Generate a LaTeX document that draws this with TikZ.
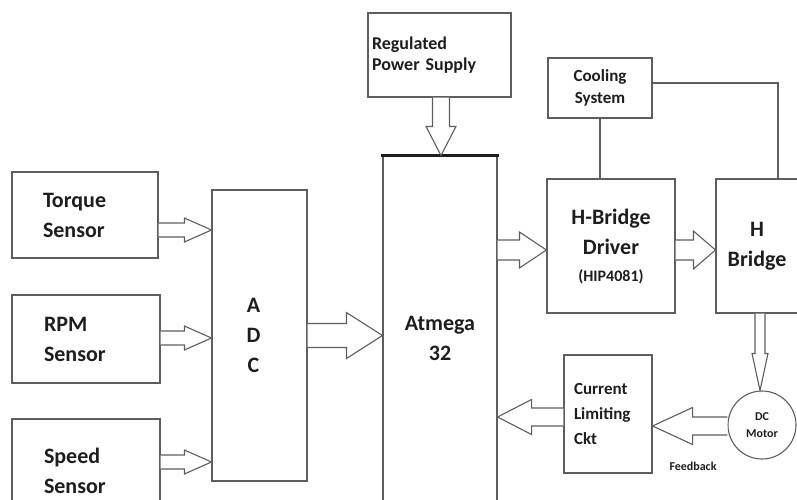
\documentclass[tikz,border=0pt]{standalone}
\usepackage{fontspec}
\setmainfont{Carlito}
\usepackage{tikz}
\usetikzlibrary{calc}
\definecolor{linegray}{HTML}{5E5E5E}
\definecolor{textdark}{HTML}{1E1E1E}
%% outlined block arrow: start, target anchor, |- or -|, shaft half, head half, head length
\newcommand{\blockarrow}[6]{%
  \coordinate (ba-s) at (#1);
  \coordinate (ba-t) at (#2 #3 ba-s);
  \coordinate (ba-h) at ($(ba-t)!#6pt!(ba-s)$);
  \draw[blockarr] ($(ba-s)!#4pt!90:(ba-t)$) -- ($(ba-h)!#4pt!90:(ba-t)$)
    -- ($(ba-h)!#5pt!90:(ba-t)$) -- (ba-t) -- ($(ba-h)!#5pt!-90:(ba-t)$)
    -- ($(ba-h)!#4pt!-90:(ba-t)$) -- ($(ba-s)!#4pt!-90:(ba-t)$);
}

\begin{document}
\begin{tikzpicture}[x=1pt, y=-1pt,
          blk/.style={rectangle, draw=linegray, line width=1.1pt,
                      text=textdark, font=\fontsize{22}{30}\selectfont\bfseries,
                      align=center, inner sep=0pt},
          sensor/.style={blk, minimum width=146pt, minimum height=86pt,
                         text width=84pt, inner xsep=31pt, align=left},
          blockarr/.style={draw=linegray, fill=white, line width=1.1pt,
                           line join=miter},
          conn/.style={draw=linegray, line width=1.1pt}
        ]
        \useasboundingbox (0,0) rectangle (797,499);
        \clip (0,0) rectangle (797,499);
        %% Sensors
        \node[sensor] (torque) at (85,215) {Torque\\Sensor};
        \node[sensor, minimum width=148pt, minimum height=88pt] (rpm) at (86,339) {RPM\\Sensor};
        \node[sensor, minimum width=148pt, minimum height=104pt] (speed) at (86,471) {Speed\\Sensor};
        %% ADC and controller
        \node[blk, minimum width=95pt, minimum height=291pt] (adc) at (259.5,335.5)
              {\hspace*{-12pt}A\\\hspace*{-12pt}D\\\hspace*{-12pt}C};
        \node[blk, minimum width=114pt, minimum height=364pt] (mcu) at (440,338) {Atmega\\32};
        \draw[line width=2.2pt, textdark] ($(mcu.north west)+(-1,0)$) -- ($(mcu.north east)+(1,0)$);
        %% Supply
        \node[blk, minimum width=143pt, minimum height=84pt, text width=135pt,
              inner xsep=4pt, align=left, font=\fontsize{18}{21}\selectfont\bfseries]
              (rps) at (439.5,55) {Regulated\\Power Supply};
        %% Driver stage
        \node[blk, minimum width=104pt, minimum height=60pt,
              font=\fontsize{17}{22}\selectfont\bfseries] (cool) at (600,88) {Cooling\\System};
        \node[blk, minimum width=128pt, minimum height=134pt] (drv) at (611,246)
              {H-Bridge\\Driver\\[-3pt]{\fontsize{16}{20}\selectfont (HIP4081)}};
        \node[blk, minimum width=82pt, minimum height=134pt] (hb) at (757,246) {H\\Bridge};
        %% Motor and feedback
        \node[circle, draw=linegray, line width=1.1pt, minimum size=68pt, inner sep=0pt,
              align=center, text=textdark, font=\fontsize{12}{17}\selectfont\bfseries]
              (motor) at (762,425) {DC\\Motor};
        \node[blk, minimum width=88pt, minimum height=118pt, text width=68pt,
              inner xsep=10pt, align=left, font=\fontsize{17}{25}\selectfont\bfseries]
              (clc) at (608,414) {Current\\Limiting\\Ckt};
        \node[text=textdark, font=\fontsize{12}{14}\selectfont\bfseries] (fb) at (693,466) {Feedback};
        %% Block arrows
        \blockarrow{$(torque.east)+(0,15)$}{adc.west}{|-}{7}{12}{27}
        \blockarrow{$(rpm.east)+(0,-1)$}{adc.west}{|-}{7}{12}{27}
        \blockarrow{$(speed.east)+(0,-9)$}{adc.west}{|-}{7}{12}{27}
        \blockarrow{adc.east}{mcu.west}{|-}{12}{23}{36}
        \blockarrow{$(rps.south)+(1.5,0)$}{mcu.north}{-|}{8.5}{15}{29}
        \blockarrow{$(mcu.east)+(0,-88)$}{drv.west}{|-}{10}{18}{27}
        \blockarrow{$(drv.east)+(0,4)$}{hb.west}{|-}{10}{19}{22}
        \blockarrow{$(hb.south)+(3,0)$}{motor.north}{-|}{5}{8}{37}
        \blockarrow{$(motor.west)+(0,1)$}{clc.east}{|-}{9}{18.5}{40}
        \blockarrow{$(clc.west)+(0,3)$}{mcu.east}{|-}{9}{17.5}{34}
        %% Cooling links
        \draw[conn] (cool.south) -- (cool.south |- drv.north);
        \draw[conn] ($(cool.east)+(0,-5)$) -| ($(hb.north)+(21,0)$);
      \end{tikzpicture}
\end{document}
